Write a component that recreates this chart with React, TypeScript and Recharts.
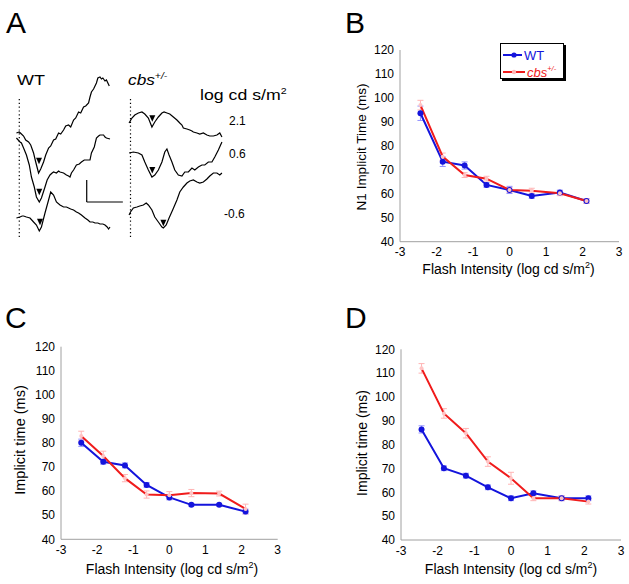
import React from 'react';
import { LineChart, Line, XAxis, YAxis, ErrorBar, Legend, ReferenceLine } from 'recharts';

const BLUE = '#1414dc';
const RED = '#f01c1c';
const BLUE_ERR = '#9090ff';
const RED_ERR = '#ffb4b4';
const AXIS = '#a0a0a0';
const FONT = 'Arial, "Liberation Sans", Helvetica, sans-serif';

// flash intensities (log cd s/m2), same steps in B, C and D
const intensity = [-2.44, -1.83, -1.23, -0.63, 0, 0.61, 1.38, 2.11];

// B: N1 implicit time (ms)
const bWt = [93.6, 73.4, 71.8, 63.7, 61.6, 59.1, 60.5, 57.0];
const bWtErr = [3, 2, 1.5, 1, 1.5, 1, 1, 1];
const bCbs = [97.0, 75.5, 67.8, 66.3, 61.6, 61.3, 60.2, 57.0];
const bCbsErr = [2, 1.5, 1, 1, 1, 1, 1, 1];

// C: implicit time (ms)
const cWt = [80.1, 72.2, 70.7, 62.6, 57.4, 54.3, 54.3, 51.5];
const cWtErr = [1.5, 1, 1, 1, 1, 0.5, 0.5, 1];
const cCbs = [82.9, 74.6, 65.4, 58.6, 58.3, 59.2, 59.0, 52.6];
const cCbsErr = [2, 2, 1.5, 1.5, 1.5, 1.5, 1, 2];

// D: implicit time (ms)
const dWt = [86.4, 70.1, 67.0, 62.1, 57.5, 59.6, 57.5, 57.5];
const dWtErr = [1.5, 1, 1, 1, 1, 1, 1, 1];
const dCbs = [112.0, 93.1, 84.8, 72.9, 65.9, 57.5, 57.5, 56.1];
const dCbsErr = [2, 2, 2, 2, 2.5, 1, 1, 1];

const xTicks = [-3, -2, -1, 0, 1, 2, 3];
const yTicks = [40, 50, 60, 70, 80, 90, 100, 110, 120];

// A: ERG traces, [time ms, amplitude uV] relative to pre-flash level
const wtTrace21 = [[-4,0],[0,1],[3,-1],[6,-3],[9,-7],[13,-9],[16,-12],[20,-20],[23,-29],[27,-40],[30,-36],[34,-29],[37,-22],[41,-15],[44,-13],[48,-7],[51,-6],[55,0],[58,-1],[62,3],[65,7],[69,8],[72,6],[76,13],[79,15],[83,21],[86,20],[90,26],[93,27],[97,30],[99,36],[101,41],[104,44],[108,50],[110,55],[113,56],[115,54],[117,55],[120,52],[122,53],[126,47]];
const wtTrace06 = [[-4,0],[1,-4],[3,-5],[6,-10],[10,-17],[14,-27],[17,-39],[21,-49],[24,-59],[28,-64],[31,-60],[36,-49],[39,-42],[43,-37],[46,-35],[48,-34],[52,-35],[55,-33],[57,-34],[62,-35],[66,-37],[69,-38],[71,-39],[73,-35],[76,-32],[80,-27],[84,-26],[87,-24],[91,-22],[94,-22],[99,-22],[101,-15],[105,-9],[108,0],[111,2],[113,3],[118,3],[120,1],[122,0],[127,-1]];
const wtTraceM06 = [[-4,0],[1,1],[4,2],[6,2],[10,1],[15,0],[20,-4],[24,-7],[28,-13],[31,-9],[36,5],[41,18],[44,26],[48,23],[52,16],[57,13],[62,11],[66,11],[69,10],[72,9],[76,8],[80,6],[83,5],[87,3],[92,0],[96,-2],[99,-4],[103,-4],[106,-5],[110,-5],[113,-6],[117,-6],[120,-7],[123,-9],[125,-11],[127,-9]];
const cbsTrace21 = [[-2,0],[2,5],[6,8],[11,10],[16,11],[20,9],[25,5],[30,-4],[34,1],[39,6],[44,10],[47,11],[51,10],[55,9],[60,6],[65,3],[69,0],[72,-2],[74,-5],[79,-6],[83,-7],[86,-8],[88,-9],[93,-10],[97,-11],[102,-10],[107,-12],[111,-13],[116,-13],[121,-12],[125,-10],[128,-14]];
const cbsTrace06 = [[-2,0],[4,1],[11,0],[16,-2],[20,-9],[25,-17],[30,-24],[34,-22],[39,-17],[44,-9],[48,1],[51,4],[54,-2],[58,-9],[62,-17],[67,-22],[72,-23],[76,-19],[81,-19],[86,-15],[90,-17],[95,-14],[100,-12],[104,-12],[109,-9],[114,-9],[118,-4],[123,3],[128,11]];
const cbsTraceM06 = [[-2,-2],[0,1],[4,5],[9,6],[13,7],[18,8],[22,10],[25,8],[30,3],[34,-4],[39,-9],[44,-14],[46,-15],[50,-12],[54,-5],[59,3],[65,13],[69,21],[74,26],[79,30],[83,32],[88,33],[93,31],[97,30],[102,31],[107,34],[111,37],[116,40],[121,40],[125,38],[128,40]];

// N1 markers (arrowheads) per trace, [ms, uV]
const wtN1 = [[27.6, -27.7], [28, -53.7], [29, -3.7]];
const cbsN1 = [[30.5, 4.7], [30.5, -17], [46, -9.7]];

// vertical stacking of the three intensities (uV)
const wtOffsets = [117, 112, 32];
const cbsOffsets = [127, 97, 37];
const intensityLabels = ['2.1', '0.6', '-0.6'];

const steps = (from: number, to: number, step: number) => {
  const out: number[] = [];
  for (let v = from; v <= to + 1e-9; v += step) out.push(Math.round(v * 100) / 100);
  return out;
};
const xMinor = steps(-3, 3, 0.2);
const yMinor = steps(40, 120, 2);

const rowsFor = (wt: number[], wtErr: number[], cbs: number[], cbsErr: number[]) =>
  intensity.map((x, i) => ({ x, wt: wt[i], wtErr: wtErr[i], cbs: cbs[i], cbsErr: cbsErr[i] }));

const traceRows = (pairs: number[][], offset: number) => pairs.map(([t, v]) => ({ t, u: offset + v }));
const markerRows = (pairs: number[][], offsets: number[]) => pairs.map(([t, v], i) => ({ t, u: offsets[i] + v }));

const tickStyle = { fill: '#000', fontSize: 12, fontFamily: FONT };

function TriangleDot(props: any) {
  const { cx, cy, index } = props;
  if (cx == null || cy == null) return null;
  return <polygon key={index} points={`${cx - 3},${cy - 3} ${cx + 3},${cy - 3} ${cx},${cy + 3.5}`} fill="#000" />;
}

function LegendBox() {
  return (
    <div style={{ width: 62, height: 34, border: '1px solid #000', boxShadow: '2px 2px 0 #000', background: '#fff' }}>
      <svg width={62} height={34} style={{ display: 'block' }}>
        <line x1={2} y1={11} x2={21} y2={11} stroke={BLUE} strokeWidth={2} />
        <circle cx={13} cy={11} r={2.6} fill={BLUE} />
        <text x={23} y={15.5} fontSize={13} fill={BLUE} fontFamily={FONT}>WT</text>
        <line x1={2} y1={28} x2={24} y2={28} stroke={RED} strokeWidth={2} />
        <circle cx={13} cy={28} r={2.2} fill="#ffb8b8" />
        <text x={26} y={32.5} fontSize={13} fill={RED} fontFamily={FONT} fontStyle="italic">
          cbs<tspan fontSize={7.5} dy={-6}>+/-</tspan>
        </text>
      </svg>
    </div>
  );
}

function IntensityPanel({ left, top, width, height, margin, yAxisWidth, rows, legend }: any) {
  return (
    <div style={{ position: 'absolute', left, top }}>
      <LineChart width={width} height={height} data={rows} margin={margin}>
        <XAxis type="number" dataKey="x" domain={[-3, 3]} ticks={xTicks} interval={0} allowDataOverflow
          stroke={AXIS} tickLine={false} tickSize={0} tickMargin={6} height={30} tick={tickStyle} />
        <XAxis xAxisId="xmin" type="number" domain={[-3, 3]} ticks={xMinor} interval={0} allowDataOverflow
          mirror axisLine={false} tick={false} tickSize={3} stroke={AXIS} height={10} />
        <XAxis xAxisId="xmaj" type="number" domain={[-3, 3]} ticks={xTicks} interval={0} allowDataOverflow
          mirror axisLine={false} tick={false} tickSize={5} stroke={AXIS} height={10} />
        <YAxis type="number" domain={[40, 120]} ticks={yTicks} interval={0} allowDataOverflow
          stroke={AXIS} tickLine={false} tickSize={0} tickMargin={6} width={yAxisWidth} tick={tickStyle} />
        <YAxis yAxisId="ymin" type="number" domain={[40, 120]} ticks={yMinor} interval={0} allowDataOverflow
          mirror axisLine={false} tick={false} tickSize={3} stroke={AXIS} width={10} />
        <YAxis yAxisId="ymaj" type="number" domain={[40, 120]} ticks={yTicks} interval={0} allowDataOverflow
          mirror axisLine={false} tick={false} tickSize={5} stroke={AXIS} width={10} />
        <Line dataKey="wt" stroke={BLUE} strokeWidth={2} isAnimationActive={false}
          dot={{ r: 3, fill: BLUE, stroke: BLUE, strokeWidth: 0 }} activeDot={false}>
          <ErrorBar dataKey="wtErr" width={3} stroke={BLUE_ERR} strokeWidth={1} />
        </Line>
        <Line dataKey="cbs" stroke={RED} strokeWidth={2} isAnimationActive={false}
          dot={{ r: 2, fill: '#ffc4c4', stroke: 'none' }} activeDot={false}>
          <ErrorBar dataKey="cbsErr" width={3} stroke={RED_ERR} strokeWidth={1} />
        </Line>
        {legend && (
          <Legend layout="horizontal" verticalAlign="middle" align="center"
            wrapperStyle={{ left: 180, top: 43, width: 64, height: 36 }}
            content={() => <LegendBox />} />
        )}
      </LineChart>
    </div>
  );
}

function TracePanel({ left, width, domain, traces, offsets, markers, scaleBar }: any) {
  return (
    <div style={{ position: 'absolute', left, top: 70 }}>
      <LineChart width={width} height={180} margin={{ top: 0, right: 0, bottom: 0, left: 0 }}>
        <XAxis type="number" dataKey="t" domain={domain} allowDataOverflow hide />
        <YAxis type="number" domain={[0, 180]} allowDataOverflow hide />
        <ReferenceLine segment={[{ x: 0, y: 13 }, { x: 0, y: 153 }]} stroke="#000" strokeWidth={1.2} strokeDasharray="1.2 2.6" />
        {scaleBar && (
          <ReferenceLine segment={[{ x: 94.4, y: 48 }, { x: 94.4, y: 70 }]} stroke="#000" strokeWidth={1.2} />
        )}
        {scaleBar && (
          <ReferenceLine segment={[{ x: 94.4, y: 48 }, { x: 145, y: 48 }]} stroke="#000" strokeWidth={1.2} />
        )}
        {traces.map((tr: number[][], i: number) => (
          <Line key={i} data={traceRows(tr, offsets[i])} dataKey="u" stroke="#000" strokeWidth={1.2}
            dot={false} activeDot={false} isAnimationActive={false} />
        ))}
        <Line data={markerRows(markers, offsets)} dataKey="u" stroke="none" dot={TriangleDot}
          activeDot={false} isAnimationActive={false} />
      </LineChart>
    </div>
  );
}

const txt = (extra: React.CSSProperties): React.CSSProperties => ({
  position: 'absolute', fontFamily: FONT, lineHeight: 1, whiteSpace: 'nowrap', color: '#000', ...extra,
});

function XTitle({ cx, top }: { cx: number; top: number }) {
  return (
    <div style={txt({ left: cx - 100, top, width: 200, textAlign: 'center', fontSize: 14 })}>
      Flash Intensity (log cd s/m<span style={{ fontSize: 9, position: 'relative', top: -6 }}>2</span>)
    </div>
  );
}

function YTitle({ cx, cy, text, size }: { cx: number; cy: number; text: string; size: number }) {
  return (
    <div style={txt({ left: cx, top: cy, fontSize: size, transform: 'translate(-50%, -50%) rotate(-90deg)' })}>
      {text}
    </div>
  );
}

export default function App() {
  const labelTops = [114.8, 147.5, 208.1];
  const labelLefts = [229, 229, 224];
  return (
    <div style={{ position: 'absolute', left: 0, top: 0, width: 629, height: 584, background: '#fff', overflow: 'hidden' }}>
      {/* A: traces */}
      <TracePanel left={10} width={115} domain={[-13, 148]} traces={[wtTrace21, wtTrace06, wtTraceM06]}
        offsets={wtOffsets} markers={wtN1} scaleBar />
      <TracePanel left={125} width={105} domain={[-7.7, 139.3]} traces={[cbsTrace21, cbsTrace06, cbsTraceM06]}
        offsets={cbsOffsets} markers={cbsN1} />
      <div style={txt({ left: 17, top: 72.3, fontSize: 15, transform: 'scaleX(1.2)', transformOrigin: 'left' })}>WT</div>
      <div style={txt({ left: 128, top: 72.3, fontSize: 15, fontStyle: 'italic', transform: 'scaleX(1.15)', transformOrigin: 'left' })}>
        cbs<span style={{ fontSize: 9, position: 'relative', top: -6 }}>+/-</span>
      </div>
      <div style={txt({ left: 200, top: 87.3, fontSize: 15, transform: 'scaleX(1.18)', transformOrigin: 'left' })}>
        log cd s/m<span style={{ fontSize: 9, position: 'relative', top: -6 }}>2</span>
      </div>
      {intensityLabels.map((l, i) => (
        <div key={l} style={txt({ left: labelLefts[i], top: labelTops[i], fontSize: 12 })}>{l}</div>
      ))}

      {/* B, C, D: implicit time vs intensity */}
      <IntensityPanel left={320} top={0} width={309} height={300} yAxisWidth={80}
        margin={{ top: 50, right: 10, bottom: 28.3, left: 0 }} rows={rowsFor(bWt, bWtErr, bCbs, bCbsErr)} legend />
      <IntensityPanel left={0} top={300} width={320} height={284} yAxisWidth={61}
        margin={{ top: 46.7, right: 42.3, bottom: 14.7, left: 0 }} rows={rowsFor(cWt, cWtErr, cCbs, cCbsErr)} />
      <IntensityPanel left={320} top={300} width={309} height={284} yAxisWidth={81}
        margin={{ top: 49.3, right: 8, bottom: 14, left: 0 }} rows={rowsFor(dWt, dWtErr, dCbs, dCbsErr)} />

      <XTitle cx={508.5} top={262} />
      <XTitle cx={172} top={562} />
      <XTitle cx={511} top={562} />
      <YTitle cx={361.7} cy={146.7} text="N1 Implicit Time (ms)" size={13.5} />
      <YTitle cx={20} cy={440} text="Implicit time (ms)" size={14.5} />
      <YTitle cx={361.7} cy={443} text="Implicit time (ms)" size={14} />

      <div style={txt({ left: 6, top: 7.6, fontSize: 30 })}>A</div>
      <div style={txt({ left: 345, top: 7.6, fontSize: 30 })}>B</div>
      <div style={txt({ left: 5, top: 302.6, fontSize: 30 })}>C</div>
      <div style={txt({ left: 345, top: 302.6, fontSize: 30 })}>D</div>
    </div>
  );
}
